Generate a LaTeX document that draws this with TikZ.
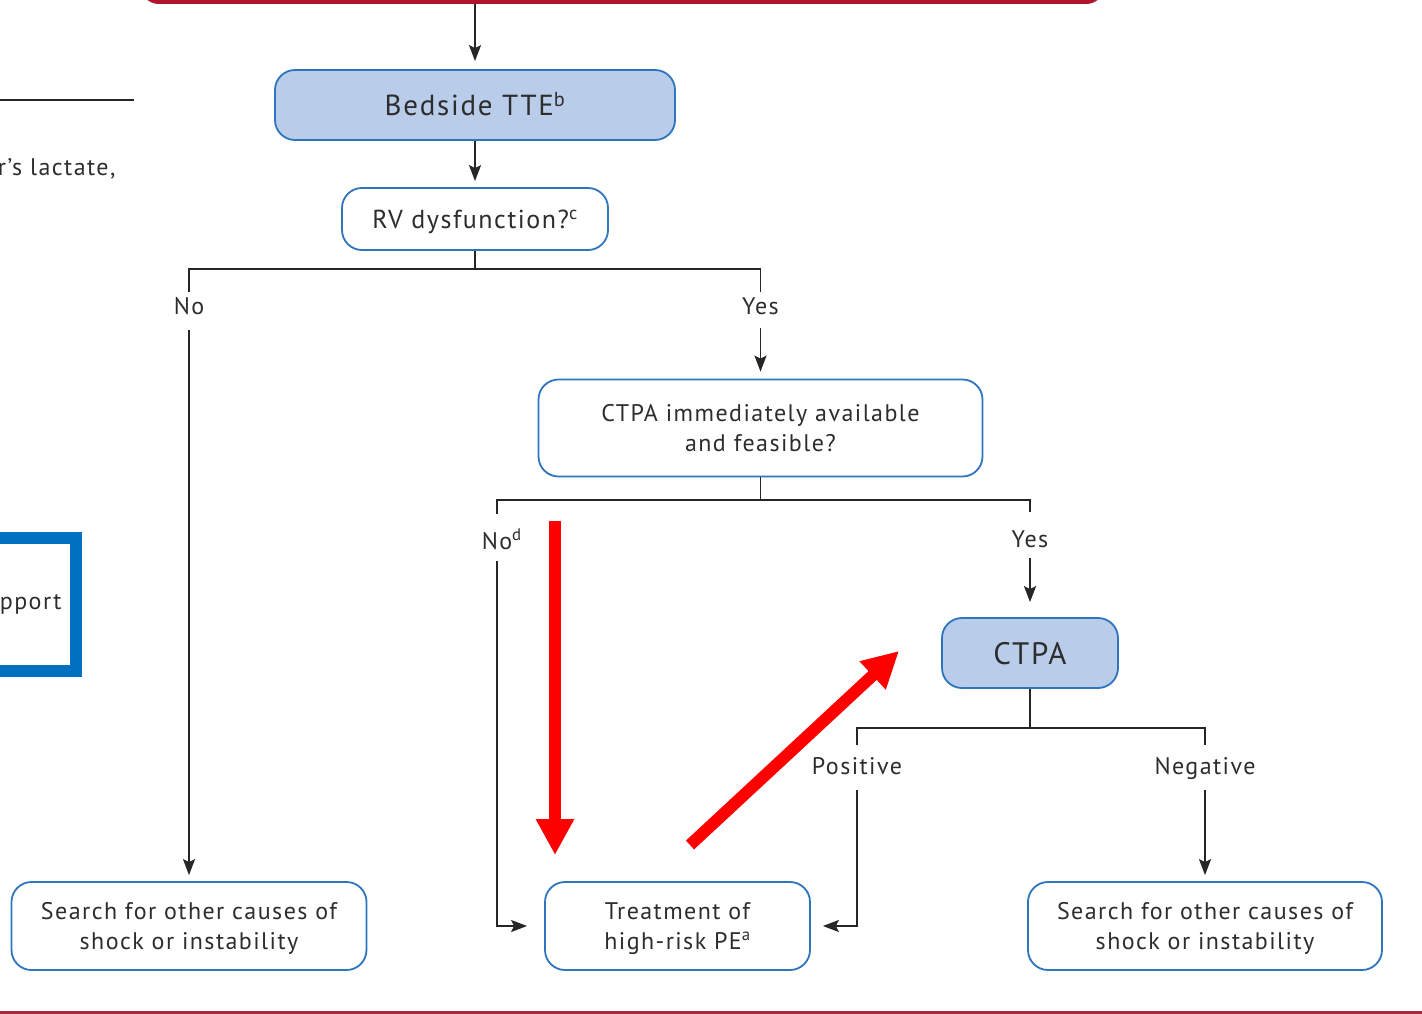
\documentclass[tikz,border=0pt]{standalone}
\usepackage{fontspec}
\setmainfont{PT Sans}[LetterSpace=6]
\usetikzlibrary{arrows.meta}
\definecolor{boxblue}{RGB}{46,117,190}
\definecolor{fillblue}{RGB}{185,205,235}
\definecolor{txt}{RGB}{45,45,45}
\definecolor{crimson}{RGB}{176,21,45}
\definecolor{rulered}{RGB}{165,40,60}
\definecolor{frameblue}{RGB}{0,112,192}
\newcommand\fsz[2]{\fontsize{#1}{#2}\selectfont}
\begin{document}
\begin{tikzpicture}[x=1pt,y=-1pt,
  every node/.style={text=txt},
  wbox/.style={draw=boxblue,line width=1.8pt,rounded corners=20pt,fill=white,align=center,inner sep=0pt,font=\fsz{24}{30}},
  bluebox/.style={wbox,fill=fillblue},
  lbl/.style={inner xsep=2pt,inner ysep=5pt,text height=17pt,text depth=0pt,font=\fsz{24}{30}},
  ln/.style={draw=black!85,line width=1.9pt},
  arr/.style={ln,-{Stealth[length=16pt,width=12pt,inset=3pt]},shorten >=6pt},
  redarr/.style={draw=red,line width=12pt,-{Triangle[length=36pt,width=36pt]}}]
\useasboundingbox (0,0) rectangle (1422,1014);
\clip (0,0) rectangle (1422,1014);
% frame pieces
\draw[crimson,line width=5pt,rounded corners=16pt] (143,-40) rectangle (1102,1.5);
\draw[rulered,line width=2.5pt] (0,1012.5) -- (1422,1012.5);
\draw[black!85,line width=1.4pt] (0,100) -- (134,100);
\node[anchor=east,font=\fsz{24}{30}] (lact) at (119,169) {r’s lactate,};
\draw[frameblue,line width=12pt] (-20,538) -- (76,538) -- (76,671) -- (-20,671);
\node[anchor=east,font=\fsz{24}{30}] (supp) at (65,604) {pport};
% nodes
\coordinate (topin) at (475,4);
\node[bluebox,minimum width=400pt,minimum height=70pt,font=\fsz{29}{34},text height=21pt,text depth=0pt] (tte) at (475,105) {Bedside TTE\textsuperscript{b}};
\node[wbox,minimum width=266pt,minimum height=62pt,font=\fsz{26}{30},text height=19pt,text depth=0pt] (rv) at (475,219) {RV dysfunction?\textsuperscript{c}};
\coordinate (j1) at (475,269);
\node[lbl] (noA) at (189,306) {No};
\node[lbl] (yesA) at (760.5,306) {Yes};
\node[wbox,minimum width=444pt,minimum height=97pt] (ctpaq) at (760.5,428) {CTPA immediately available\\and feasible?};
\coordinate (j2) at (760.5,500);
\node[lbl] (noB) at (497,541) {No\rlap{\textsuperscript{d}}};
\node[lbl] (yesB) at (1030,539) {Yes};
\node[bluebox,minimum width=176pt,minimum height=70pt,font=\fsz{31}{36},text height=22pt,text depth=0pt] (ctpa) at (1030,653) {CTPA};
\coordinate (j3) at (1030,728);
\node[lbl] (pos) at (857,766) {Positive};
\node[lbl] (neg) at (1205,766) {Negative};
\node[wbox,minimum width=355pt,minimum height=88pt,text depth=0pt] (srch1) at (189,926) {Search for other causes of\\shock or instability};
\node[wbox,minimum width=265pt,minimum height=88pt,text depth=0pt] (treat) at (677.5,926) {Treatment of\\high-risk PE\textsuperscript{a}};
\node[wbox,minimum width=354pt,minimum height=88pt,text depth=0pt] (srch2) at (1205,926) {Search for other causes of\\shock or instability};
% connectors
\draw[arr,shorten >=8pt] (topin) -- (tte.north);
\draw[arr] (tte) -- (rv);
\draw[ln] (rv.south) -- (j1);
\draw[ln] (noA.north) |- (j1) -| (yesA.north);
\draw[arr,shorten <=10pt] (noA.south) -- (srch1.north);
\draw[arr,shorten <=8pt,shorten >=7pt] (yesA.south) -- (ctpaq.north);
\draw[ln] (ctpaq.south) -- (j2);
\draw[ln,shorten <=13pt] (noB.north) |- (j2);
\draw[ln,shorten >=13pt] (j2) -| (yesB.north);
\draw[arr,shorten <=6pt,shorten >=17pt] (noB.south) |- (treat.west);
\draw[arr,shorten <=5pt,shorten >=15pt] (yesB.south) -- (ctpa.north);
\draw[ln] (ctpa.south) -- (j3);
\draw[ln,shorten <=7pt] (pos.north) |- (j3);
\draw[ln,shorten >=7pt] (j3) -| (neg.north);
\draw[arr,shorten <=10pt,shorten >=12pt] (pos.south) |- (treat.east);
\draw[arr,shorten <=10pt] (neg.south) -- (srch2.north);
% red annotation arrows
\coordinate (r1s) at (555,521);
\coordinate (r1e) at (555,855);
\coordinate (r2s) at (690,845);
\coordinate (r2e) at (899,651);
\draw[redarr] (r1s) -- (r1e);
\draw[redarr] (r2s) -- (r2e);
\end{tikzpicture}
\end{document}
